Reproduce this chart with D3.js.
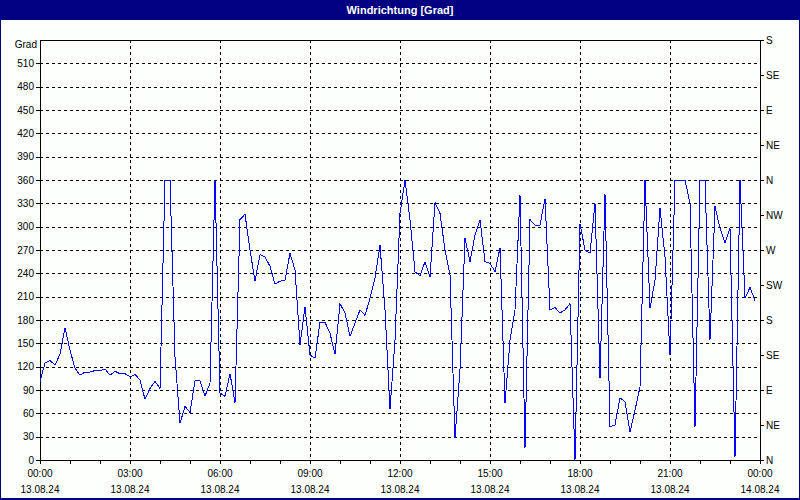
<!DOCTYPE html>
<html><head><meta charset="utf-8">
<script src="https://cdn.jsdelivr.net/npm/d3@7"></script>
<style>html,body{margin:0;padding:0;background:#fff;}svg{display:block;}</style>
</head><body>
<svg id="chart" width="800" height="500"></svg>
<script>
const title = "Windrichtung [Grad]";
const unitLabel = "Grad";
const startTime = "2024-08-13T00:00:00";
const stepMinutes = 10;
const values = [100,125,128,122,136,170,141,118,109,113,113,115,115,117,109,114,111,111,107,110,103,78,92,101,92,360,360,133,47,69,61,102,102,82,99,360,86,82,111,74,309,316,270,230,264,261,249,226,230,231,266,244,148,197,135,131,177,177,163,136,201,189,159,176,193,186,208,234,276,193,65,154,317,360,309,242,237,255,235,331,317,270,238,28,116,285,255,289,309,255,253,242,273,73,154,193,341,15,309,302,302,336,193,196,189,193,201,0,304,270,266,330,105,342,43,45,80,75,36,64,94,360,195,231,324,261,135,360,360,360,330,43,360,360,154,326,298,279,298,4,360,208,222,205];
const leftTicks = [0,30,60,90,120,150,180,210,240,270,300,330,360,390,420,450,480,510];
const rightTicks = [0,45,90,135,180,225,270,315,360,405,450,495,540];
const rightLabels = ["N","NE","E","SE","S","SW","W","NW","N","NE","E","SE","S"];
const xTickHours = [0,3,6,9,12,15,18,21,24];
const xTimeLabels = ["00:00","03:00","06:00","09:00","12:00","15:00","18:00","21:00","00:00"];
const xDateLabels = ["13.08.24","13.08.24","13.08.24","13.08.24","13.08.24","13.08.24","13.08.24","13.08.24","14.08.24"];

const svg = d3.select("#chart");
const W = 800, H = 500;
const L = 40, R = 760, T = 40, B = 460;
const navy = "#000080";
const font = "Liberation Sans, Arial, sans-serif";

svg.append("rect").attr("x",0).attr("y",0).attr("width",W).attr("height",H).attr("fill","#fcfffc");
svg.append("rect").attr("x",0).attr("y",0).attr("width",W).attr("height",20).attr("fill",navy);
svg.append("rect").attr("x",0).attr("y",0).attr("width",1).attr("height",H).attr("fill",navy);
svg.append("rect").attr("x",W-1).attr("y",0).attr("width",1).attr("height",H).attr("fill",navy);
svg.append("rect").attr("x",0).attr("y",H-2).attr("width",W).attr("height",2).attr("fill",navy);
svg.append("text").attr("x",W/2).attr("y",14).attr("text-anchor","middle")
  .attr("fill","#fff").attr("font-family",font).attr("font-weight","bold").attr("font-size",11).text(title);

const t0 = new Date(startTime);
const x = d3.scaleTime().domain([t0, d3.timeHour.offset(t0,24)]).range([L,R]);
const y = d3.scaleLinear().domain([0,540]).range([B,T]);
const data = values.map((v,i)=>({t:d3.timeMinute.offset(t0,i*stepMinutes), v}));

const g = svg.append("g").attr("shape-rendering","crispEdges");
// grid
g.selectAll(".hg").data(leftTicks.filter(d=>d>0)).join("line")
  .attr("x1",L).attr("x2",R).attr("y1",d=>Math.round(y(d))+0.5).attr("y2",d=>Math.round(y(d))+0.5)
  .attr("stroke","#000").attr("stroke-dasharray","3,3");
g.selectAll(".vg").data(xTickHours.slice(1,-1)).join("line")
  .attr("x1",d=>Math.round(x(d3.timeHour.offset(t0,d)))+0.5).attr("x2",d=>Math.round(x(d3.timeHour.offset(t0,d)))+0.5)
  .attr("y1",T).attr("y2",B).attr("stroke","#000").attr("stroke-dasharray","3,3");

// axes
const yl = svg.append("g").attr("transform",`translate(${L},0)`)
  .call(d3.axisLeft(y).tickValues(leftTicks).tickSize(4).tickPadding(2).tickFormat(d3.format("d")));
const yr = svg.append("g").attr("transform",`translate(${R},0)`)
  .call(d3.axisRight(y).tickValues(rightTicks).tickSize(4).tickPadding(2).tickFormat((d,i)=>rightLabels[i]));
const hours = d3.range(0,25);
const xa = svg.append("g").attr("transform",`translate(0,${B})`)
  .call(d3.axisBottom(x).tickValues(hours.map(h=>d3.timeHour.offset(t0,h))).tickSize(4).tickFormat(""));
[yl,yr,xa].forEach(a=>{
  a.select(".domain").remove();
  a.selectAll("line").attr("stroke","#000").attr("shape-rendering","crispEdges");
  a.selectAll("text").attr("font-family",font).attr("font-size",10).attr("fill","#000");
});
yr.selectAll("text").attr("font-size",10);

// bottom labels
const lab = svg.append("g").attr("font-family",font).attr("font-size",10).attr("fill","#000").attr("text-anchor","middle");
lab.selectAll(".tl").data(xTickHours).join("text").attr("x",d=>x(d3.timeHour.offset(t0,d))).attr("y",477).text((d,i)=>xTimeLabels[i]);
lab.selectAll(".dl").data(xTickHours).join("text").attr("x",d=>x(d3.timeHour.offset(t0,d))).attr("y",493).text((d,i)=>xDateLabels[i]);

svg.append("text").attr("x",37).attr("y",48).attr("text-anchor","end").attr("font-family",font).attr("font-size",10).attr("fill","#000").text(unitLabel);

// frame
svg.append("rect").attr("x",L+0.5).attr("y",T+0.5).attr("width",R-L).attr("height",B-T)
  .attr("fill","none").attr("stroke","#000").attr("shape-rendering","crispEdges");

// line
svg.append("path").datum(data)
  .attr("d", d3.line().x(d=>x(d.t)).y(d=>y(d.v)))
  .attr("fill","none").attr("stroke","#0000ff").attr("stroke-width",1).attr("shape-rendering","crispEdges");
</script>
</body></html>
